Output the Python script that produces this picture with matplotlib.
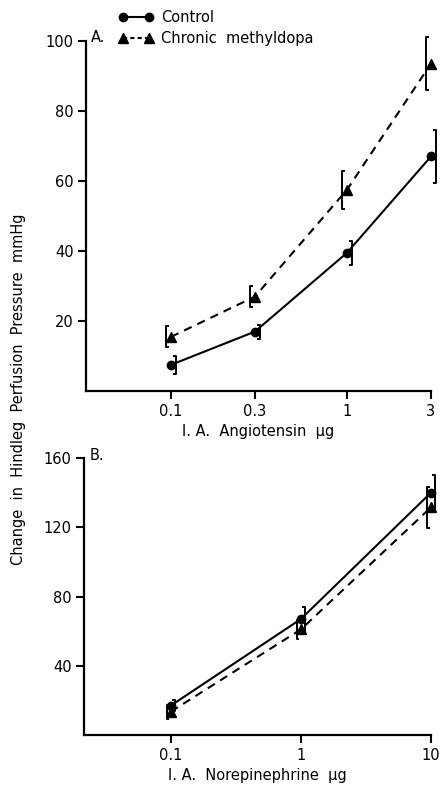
import matplotlib
matplotlib.use("Agg")
import matplotlib.pyplot as plt
from matplotlib.lines import Line2D
from matplotlib.ticker import NullLocator

plt.rcParams.update({
    'font.family': 'DejaVu Sans',
    'font.size': 10.5,
    'axes.linewidth': 1.6,
    'xtick.major.width': 1.5,
    'ytick.major.width': 1.5,
    'xtick.major.size': 6,
    'ytick.major.size': 6,
})

# Panel A: angiotensin
ang_dose = [0.1, 0.3, 1, 3]
ang_dose_labels = ['0.1', '0.3', '1', '3']
ang_control = [7.5, 17, 39.5, 67]
ang_control_err = [2.5, 2, 3.5, 7.5]
ang_methyl = [15.5, 27, 57.5, 93.5]
ang_methyl_err = [3, 3, 5.5, 7.5]

# Panel B: norepinephrine
ne_dose = [0.1, 1, 10]
ne_dose_labels = ['0.1', '1', '10']
ne_control = [17, 67, 140]
ne_control_err = [3, 7, 10]
ne_methyl = [13.5, 61, 131.5]
ne_methyl_err = [4, 5.5, 12]


def bracket(ax, x, y, err, side):
    # side = +1 -> bracket right of the point, caps pointing left ("]")
    # side = -1 -> bracket left of the point, caps pointing right ("[")
    for xi, yi, ei in zip(x, y, err):
        xb = xi * 1.07 if side > 0 else xi / 1.07
        xc = xi * 1.025 if side > 0 else xi / 1.025
        ax.plot([xc, xb, xb, xc], [yi + ei, yi + ei, yi - ei, yi - ei],
                color='black', lw=1.4, solid_capstyle='butt', zorder=2, clip_on=False)


def style(ax):
    for s in ['top', 'right']:
        ax.spines[s].set_visible(False)
    ax.set_xscale('log')
    ax.xaxis.set_minor_locator(NullLocator())
    ax.tick_params(direction='out', pad=3)


def draw(ax, dose, control, control_err, methyl, methyl_err):
    ax.plot(dose, control, '-', color='black', lw=1.5, marker='o', ms=6,
            zorder=3, clip_on=False)
    ax.plot(dose, methyl, '--', color='black', lw=1.5, dashes=(4, 3),
            marker='^', ms=6.5, zorder=3, clip_on=False)
    bracket(ax, dose, control, control_err, +1)
    bracket(ax, dose, methyl, methyl_err, -1)


fig = plt.figure(figsize=(4.42, 7.87), dpi=100)

axA = fig.add_axes([0.195, 0.503, 0.78, 0.445])
style(axA)
draw(axA, ang_dose, ang_control, ang_control_err, ang_methyl, ang_methyl_err)
axA.set_xlim(0.033, 3)
axA.set_ylim(0, 100)
axA.set_xticks(ang_dose)
axA.set_xticklabels(ang_dose_labels)
axA.set_yticks([20, 40, 60, 80, 100])
axA.set_xlabel('I. A.  Angiotensin  µg', labelpad=4)
axA.text(0.015, 1.01, 'A.', transform=axA.transAxes, ha='left', va='center')

axB = fig.add_axes([0.19, 0.066, 0.785, 0.352])
style(axB)
draw(axB, ne_dose, ne_control, ne_control_err, ne_methyl, ne_methyl_err)
axB.set_xlim(0.0215, 10)
axB.set_ylim(0, 160)
axB.set_xticks(ne_dose)
axB.set_xticklabels(ne_dose_labels)
axB.set_yticks([40, 80, 120, 160])
axB.set_xlabel('I. A.  Norepinephrine  µg', labelpad=4)
axB.text(0.015, 1.01, 'B.', transform=axB.transAxes, ha='left', va='center')

fig.text(0.042, 0.505, 'Change  in  Hindleg  Perfusion  Pressure  mmHg',
         rotation=90, ha='center', va='center')

handles = [
    Line2D([], [], color='black', lw=1.5, marker='o', ms=6),
    Line2D([], [], color='black', lw=1.5, ls='--', dashes=(2, 1.5), marker='^', ms=6.5),
]
fig.legend(handles, ['Control', 'Chronic  methyldopa'], loc='upper left',
           bbox_to_anchor=(0.255, 0.995), frameon=False, numpoints=2,
           handlelength=2.4, handletextpad=0.5, labelspacing=0.45, borderaxespad=0)

fig.savefig('out.png', dpi=100)
